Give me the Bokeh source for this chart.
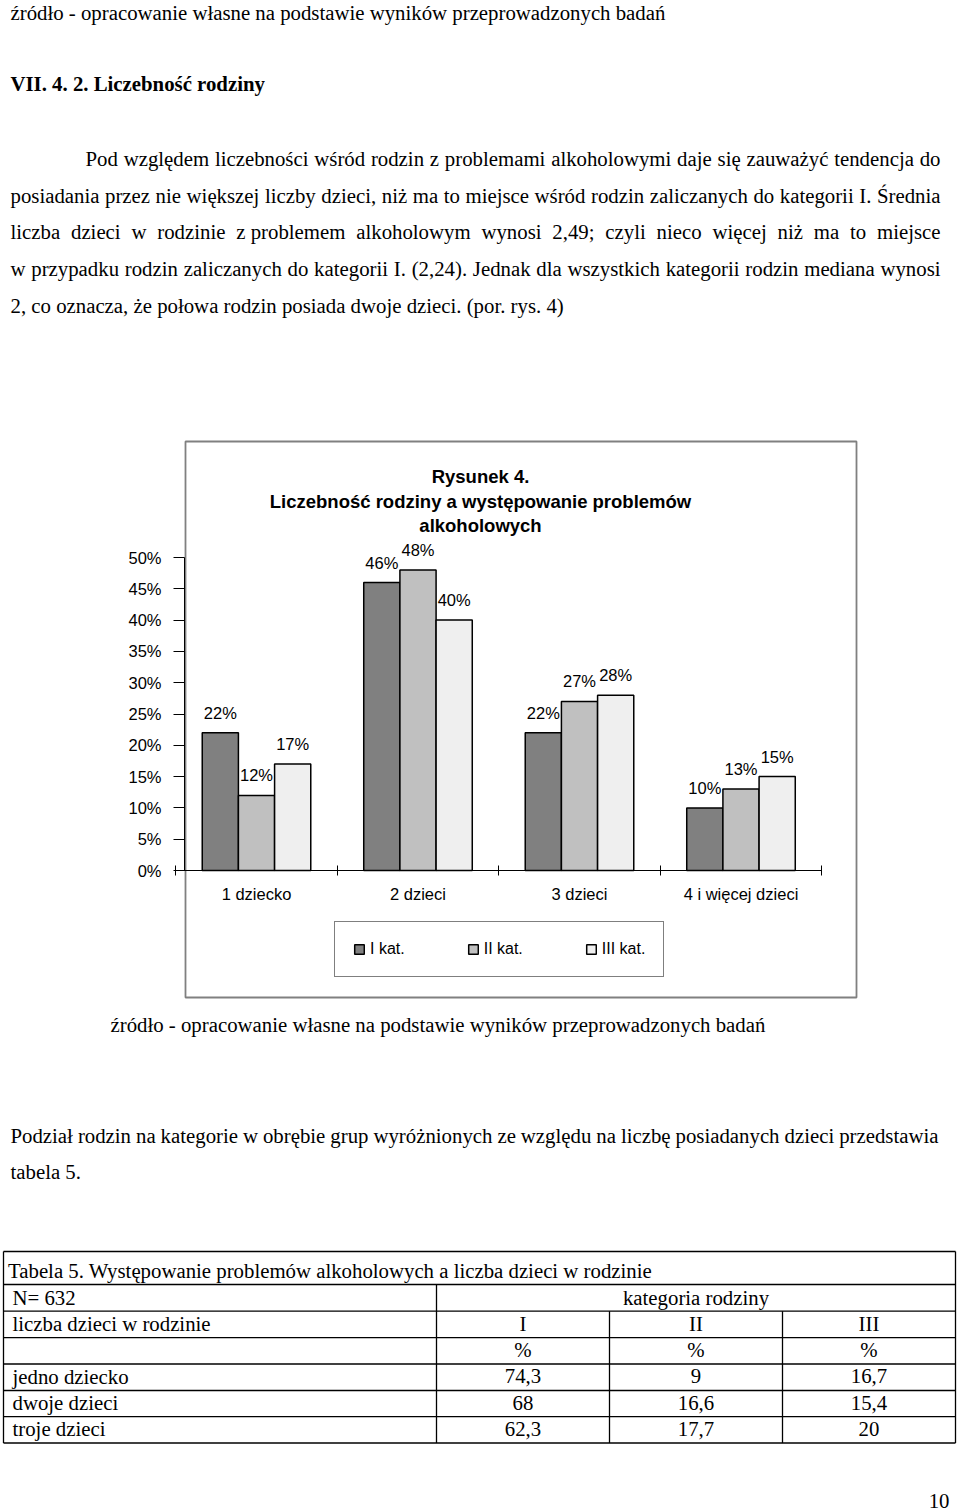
from bokeh.plotting import figure
from bokeh.models import (Range1d, LinearAxis, FixedTicker, PrintfTickFormatter,
                          Legend, LegendItem, ColumnDataSource)
from bokeh.core.properties import value
from bokeh.embed import file_html
from bokeh.resources import INLINE

# ---------------- chart data ----------------
categories = ["1 dziecko", "2 dzieci", "3 dzieci", "4 i więcej dzieci"]
series_names = ["I kat.", "II kat.", "III kat."]
kat_I = [22, 46, 22, 10]
kat_II = [12, 48, 27, 13]
kat_III = [17, 40, 28, 15]
y_ticks = [0, 5, 10, 15, 20, 25, 30, 35, 40, 45, 50]
chart_title = ["Rysunek 4.", "Liczebność rodziny a występowanie problemów", "alkoholowych"]

# ---------------- table data ----------------
table_caption = "Tabela 5. Występowanie problemów alkoholowych a liczba dzieci w rodzinie"
table_n = "N=  632"
table_group_header = "kategoria rodziny"
table_row_header = "liczba dzieci w rodzinie"
table_col_labels = ["I", "II", "III"]
table_units = ["%", "%", "%"]
table_rows = ["jedno dziecko", "dwoje dzieci", "troje dzieci"]
table_I = [74.3, 68, 62.3]
table_II = [9, 16.6, 17.7]
table_III = [16.7, 15.4, 20]

# ---------------- document text ----------------
source_note = "źródło - opracowanie własne na podstawie wyników przeprowadzonych badań"
heading = "VII. 4. 2. Liczebność rodziny"
para1 = [
    "Pod względem liczebności wśród rodzin z problemami alkoholowymi daje się zauważyć tendencja do",
    "posiadania przez nie większej liczby dzieci, niż ma to miejsce wśród rodzin zaliczanych do kategorii I. Średnia",
    "liczba dzieci w rodzinie z\u00a0problemem alkoholowym wynosi 2,49; czyli nieco więcej niż ma to miejsce",
    "w przypadku rodzin zaliczanych do kategorii I. (2,24). Jednak dla wszystkich kategorii rodzin mediana wynosi",
    "2, co oznacza, że połowa rodzin posiada dwoje dzieci. (por. rys. 4)",
]
para2 = [
    "Podział rodzin na kategorie w obrębie grup wyróżnionych ze względu na liczbę posiadanych dzieci przedstawia",
    "tabela 5.",
]
page_number = "10"

# ---------------- layout constants ----------------
PX0, PX1, PY0, PY1 = 0, 960, 0, 1511
SERIF = "Liberation Serif"
SANS = "Liberation Sans"
BODY_FS = 20.8
TDY = -7.0          # baseline correction for rendered text
CAT_X0, CAT_STEP = 256.0, 161.5
PCT_Y0, PX_PER_PCT = 870.0, 6.26
BAR_W = 0.224
BOX = (185, 856, 441, 997)
TABLE_COLS = [3, 436, 609, 782, 955]
TABLE_ROWS = [1251, 1284, 1310.7, 1337.2, 1363.5, 1390, 1416.2, 1442.5]

TIMES_W = {' ': 250, '\u00a0': 250, ',': 250, '.': 250, ';': 278, ':': 278, '(': 333, ')': 333,
           '-': 333, '=': 564, '%': 833,
           'A': 722, 'B': 667, 'C': 667, 'D': 722, 'E': 611, 'F': 556, 'G': 722, 'H': 722, 'I': 333,
           'J': 389, 'K': 722, 'L': 611, 'M': 889, 'N': 722, 'O': 722, 'P': 556, 'Q': 722, 'R': 667,
           'S': 556, 'T': 611, 'U': 722, 'V': 722, 'W': 944, 'X': 722, 'Y': 722, 'Z': 611,
           'a': 444, 'b': 500, 'c': 444, 'd': 500, 'e': 444, 'f': 333, 'g': 500, 'h': 500, 'i': 278,
           'j': 278, 'k': 500, 'l': 278, 'm': 778, 'n': 500, 'o': 500, 'p': 500, 'q': 500, 'r': 333,
           's': 389, 't': 278, 'u': 500, 'v': 500, 'w': 722, 'x': 500, 'y': 500, 'z': 444,
           'ą': 444, 'ć': 444, 'ę': 444, 'ł': 278, 'ń': 500, 'ó': 500, 'ś': 389, 'ź': 444, 'ż': 444,
           'Ś': 556, 'Ż': 611, 'Ł': 611}


def text_width(s, size):
    return sum(TIMES_W.get(ch, 500) for ch in s) * size / 1000.0


p = figure(width=PX1 - PX0, height=PY1 - PY0, x_range=Range1d(PX0, PX1), y_range=Range1d(PY1, PY0),
           output_backend="svg", toolbar_location=None, min_border=0,
           x_axis_type=None, y_axis_type=None, title=None)
p.outline_line_color = None
p.background_fill_color = "white"
p.border_fill_color = "white"

p.extra_x_ranges = {"cat": Range1d((PX0 - CAT_X0) / CAT_STEP, (PX1 - CAT_X0) / CAT_STEP)}
p.extra_y_ranges = {"pct": Range1d((PCT_Y0 - PY1) / PX_PER_PCT, (PCT_Y0 - PY0) / PX_PER_PCT)}

# ---------------- document text ----------------
lx, ly, lt = [], [], []
rx, ry, rt = [], [], []


def put_line(txt, x0, y, x1=None):
    y = y + TDY
    if x1 is None:
        lx.append(x0); ly.append(y); lt.append(txt.replace("\u00a0", " "))
        return
    words = txt.split(" ")
    widths = [text_width(w, BODY_FS) for w in words]
    gap = (x1 - x0 - sum(widths)) / (len(words) - 1)
    x = x0
    for w, wd in zip(words[:-1], widths[:-1]):
        lx.append(x); ly.append(y); lt.append(w.replace("\u00a0", " "))
        x += wd + gap
    rx.append(x1); ry.append(y); rt.append(words[-1].replace("\u00a0", " "))


put_line(source_note, 10, 19)
for k, line in enumerate(para1):
    base = 164.8 + 36.8 * k
    if k == 0:
        put_line(line, 85, base, 940)
    elif k < len(para1) - 1:
        put_line(line, 10, base, 940)
    else:
        put_line(line, 10, base)
put_line(source_note, 110, 1031)
put_line(para2[0], 10, 1141.5, 938)
put_line(para2[1], 10, 1178.3)

p.text(x=lx, y=ly, text=lt, text_font=value(SERIF), text_font_size=f"{BODY_FS}px",
       text_baseline="alphabetic", text_align="left", text_color="black")
p.text(x=rx, y=ry, text=rt, text_font=value(SERIF), text_font_size=f"{BODY_FS}px",
       text_baseline="alphabetic", text_align="right", text_color="black")
p.text(x=[10], y=[90 + TDY], text=[heading], text_font=value(SERIF), text_font_size=f"{BODY_FS}px",
       text_font_style="bold", text_baseline="alphabetic", text_color="black")
p.text(x=[949], y=[1507 + TDY], text=[page_number], text_font=value(SERIF), text_font_size=f"{BODY_FS}px",
       text_baseline="alphabetic", text_align="right", text_color="black")

# ---------------- chart ----------------
p.quad(left=[BOX[0]], right=[BOX[1]], top=[BOX[2]], bottom=[BOX[3]], fill_color=None,
       line_color="#808080", line_width=1.8)

p.text(x=[480] * 3, y=[483 + TDY, 507.5 + TDY, 532 + TDY], text=chart_title, text_font=value(SANS),
       text_font_size="18.5px", text_font_style="bold", text_align="center",
       text_baseline="alphabetic", text_color="black")

series_vals = [kat_I, kat_II, kat_III]
series_colors = ["#808080", "#c0c0c0", "#efefef"]
offsets = [-BAR_W, 0.0, BAR_W]
bar_renderers = []
for name, vals, col, off in zip(series_names, series_vals, series_colors, offsets):
    src = ColumnDataSource(dict(x=[i + off for i in range(len(categories))], top=vals,
                                label=[f"{v}%" for v in vals]))
    r = p.vbar(x="x", top="top", bottom=0, width=BAR_W, source=src, x_range_name="cat",
               y_range_name="pct", fill_color=col, line_color="black", line_width=1.5)
    bar_renderers.append(r)
    p.text(x="x", y="top", text="label", source=src, x_range_name="cat", y_range_name="pct",
           text_align="center", text_baseline="alphabetic", y_offset=-13 + TDY,
           text_font=value(SANS), text_font_size="16.5px", text_color="black")

yaxis = LinearAxis(y_range_name="pct", fixed_location=184, ticker=FixedTicker(ticks=y_ticks),
                   formatter=PrintfTickFormatter(format="%d%%"), bounds=(0, 50),
                   major_tick_out=11, major_tick_in=0, minor_tick_out=0, minor_tick_in=0,
                   major_label_standoff=12, major_label_text_font=SANS,
                   major_label_text_font_size="16.5px", major_label_text_color="black",
                   axis_line_color="black", major_tick_line_color="black")
p.add_layout(yaxis, "left")

xaxis = LinearAxis(x_range_name="cat", y_range_name="pct", fixed_location=0,
                   ticker=FixedTicker(ticks=list(range(len(categories))),
                                      minor_ticks=[i - 0.5 for i in range(len(categories) + 1)]),
                   major_label_overrides={i: c for i, c in enumerate(categories)},
                   bounds=(-0.5, len(categories) - 0.5),
                   major_tick_out=0, major_tick_in=0, minor_tick_in=5, minor_tick_out=5,
                   major_label_standoff=9, major_label_text_font=SANS,
                   major_label_text_font_size="16.5px", major_label_text_color="black",
                   axis_line_color="black", minor_tick_line_color="black")
p.add_layout(xaxis, "below")

legend = Legend(items=[LegendItem(label=n, renderers=[r]) for n, r in zip(series_names, bar_renderers)],
                location=(334 - PX0, PY1 - 977), orientation="horizontal", padding=18, spacing=62,
                glyph_width=12, glyph_height=12, label_standoff=5, margin=0,
                label_text_font=SANS, label_text_font_size="16px", label_text_color="black",
                border_line_color="black", border_line_width=1, background_fill_color="white",
                background_fill_alpha=1)
p.add_layout(legend)

# ---------------- table ----------------
seg_x0, seg_y0, seg_x1, seg_y1 = [], [], [], []
for yy in TABLE_ROWS:
    seg_x0.append(TABLE_COLS[0]); seg_x1.append(TABLE_COLS[-1])
    seg_y0.append(yy); seg_y1.append(yy)
for xx, ytop in [(TABLE_COLS[0], TABLE_ROWS[0]), (TABLE_COLS[-1], TABLE_ROWS[0]),
                 (TABLE_COLS[1], TABLE_ROWS[1]), (TABLE_COLS[2], TABLE_ROWS[2]),
                 (TABLE_COLS[3], TABLE_ROWS[2])]:
    seg_x0.append(xx); seg_x1.append(xx)
    seg_y0.append(ytop); seg_y1.append(TABLE_ROWS[-1])
p.segment(x0=seg_x0, y0=seg_y0, x1=seg_x1, y1=seg_y1, line_color="black", line_width=1.3)


def fmt(v):
    return f"{v:g}".replace(".", ",")


def row_base(i):
    return TABLE_ROWS[i + 1] - 7.2 + TDY


col_centers = [(TABLE_COLS[j] + TABLE_COLS[j + 1]) / 2 for j in range(1, 4)]
tl_x, tl_y, tl_t = [7.5, 12, 12], [row_base(0), row_base(1), row_base(2)], [table_caption, table_n, table_row_header]
tc_x, tc_y, tc_t = [(TABLE_COLS[1] + TABLE_COLS[-1]) / 2], [row_base(1)], [table_group_header]
for j in range(3):
    tc_x += [col_centers[j], col_centers[j]]
    tc_y += [row_base(2), row_base(3)]
    tc_t += [table_col_labels[j], table_units[j]]
for i, rname in enumerate(table_rows):
    tl_x.append(12); tl_y.append(row_base(4 + i)); tl_t.append(rname)
    for j, vals in enumerate([table_I, table_II, table_III]):
        tc_x.append(col_centers[j]); tc_y.append(row_base(4 + i)); tc_t.append(fmt(vals[i]))

p.text(x=tl_x, y=tl_y, text=tl_t, text_font=value(SERIF), text_font_size=f"{BODY_FS}px",
       text_baseline="alphabetic", text_align="left", text_color="black")
p.text(x=tc_x, y=tc_y, text=tc_t, text_font=value(SERIF), text_font_size=f"{BODY_FS}px",
       text_baseline="alphabetic", text_align="center", text_color="black")

open("out.html", "w").write(file_html(p, INLINE))
